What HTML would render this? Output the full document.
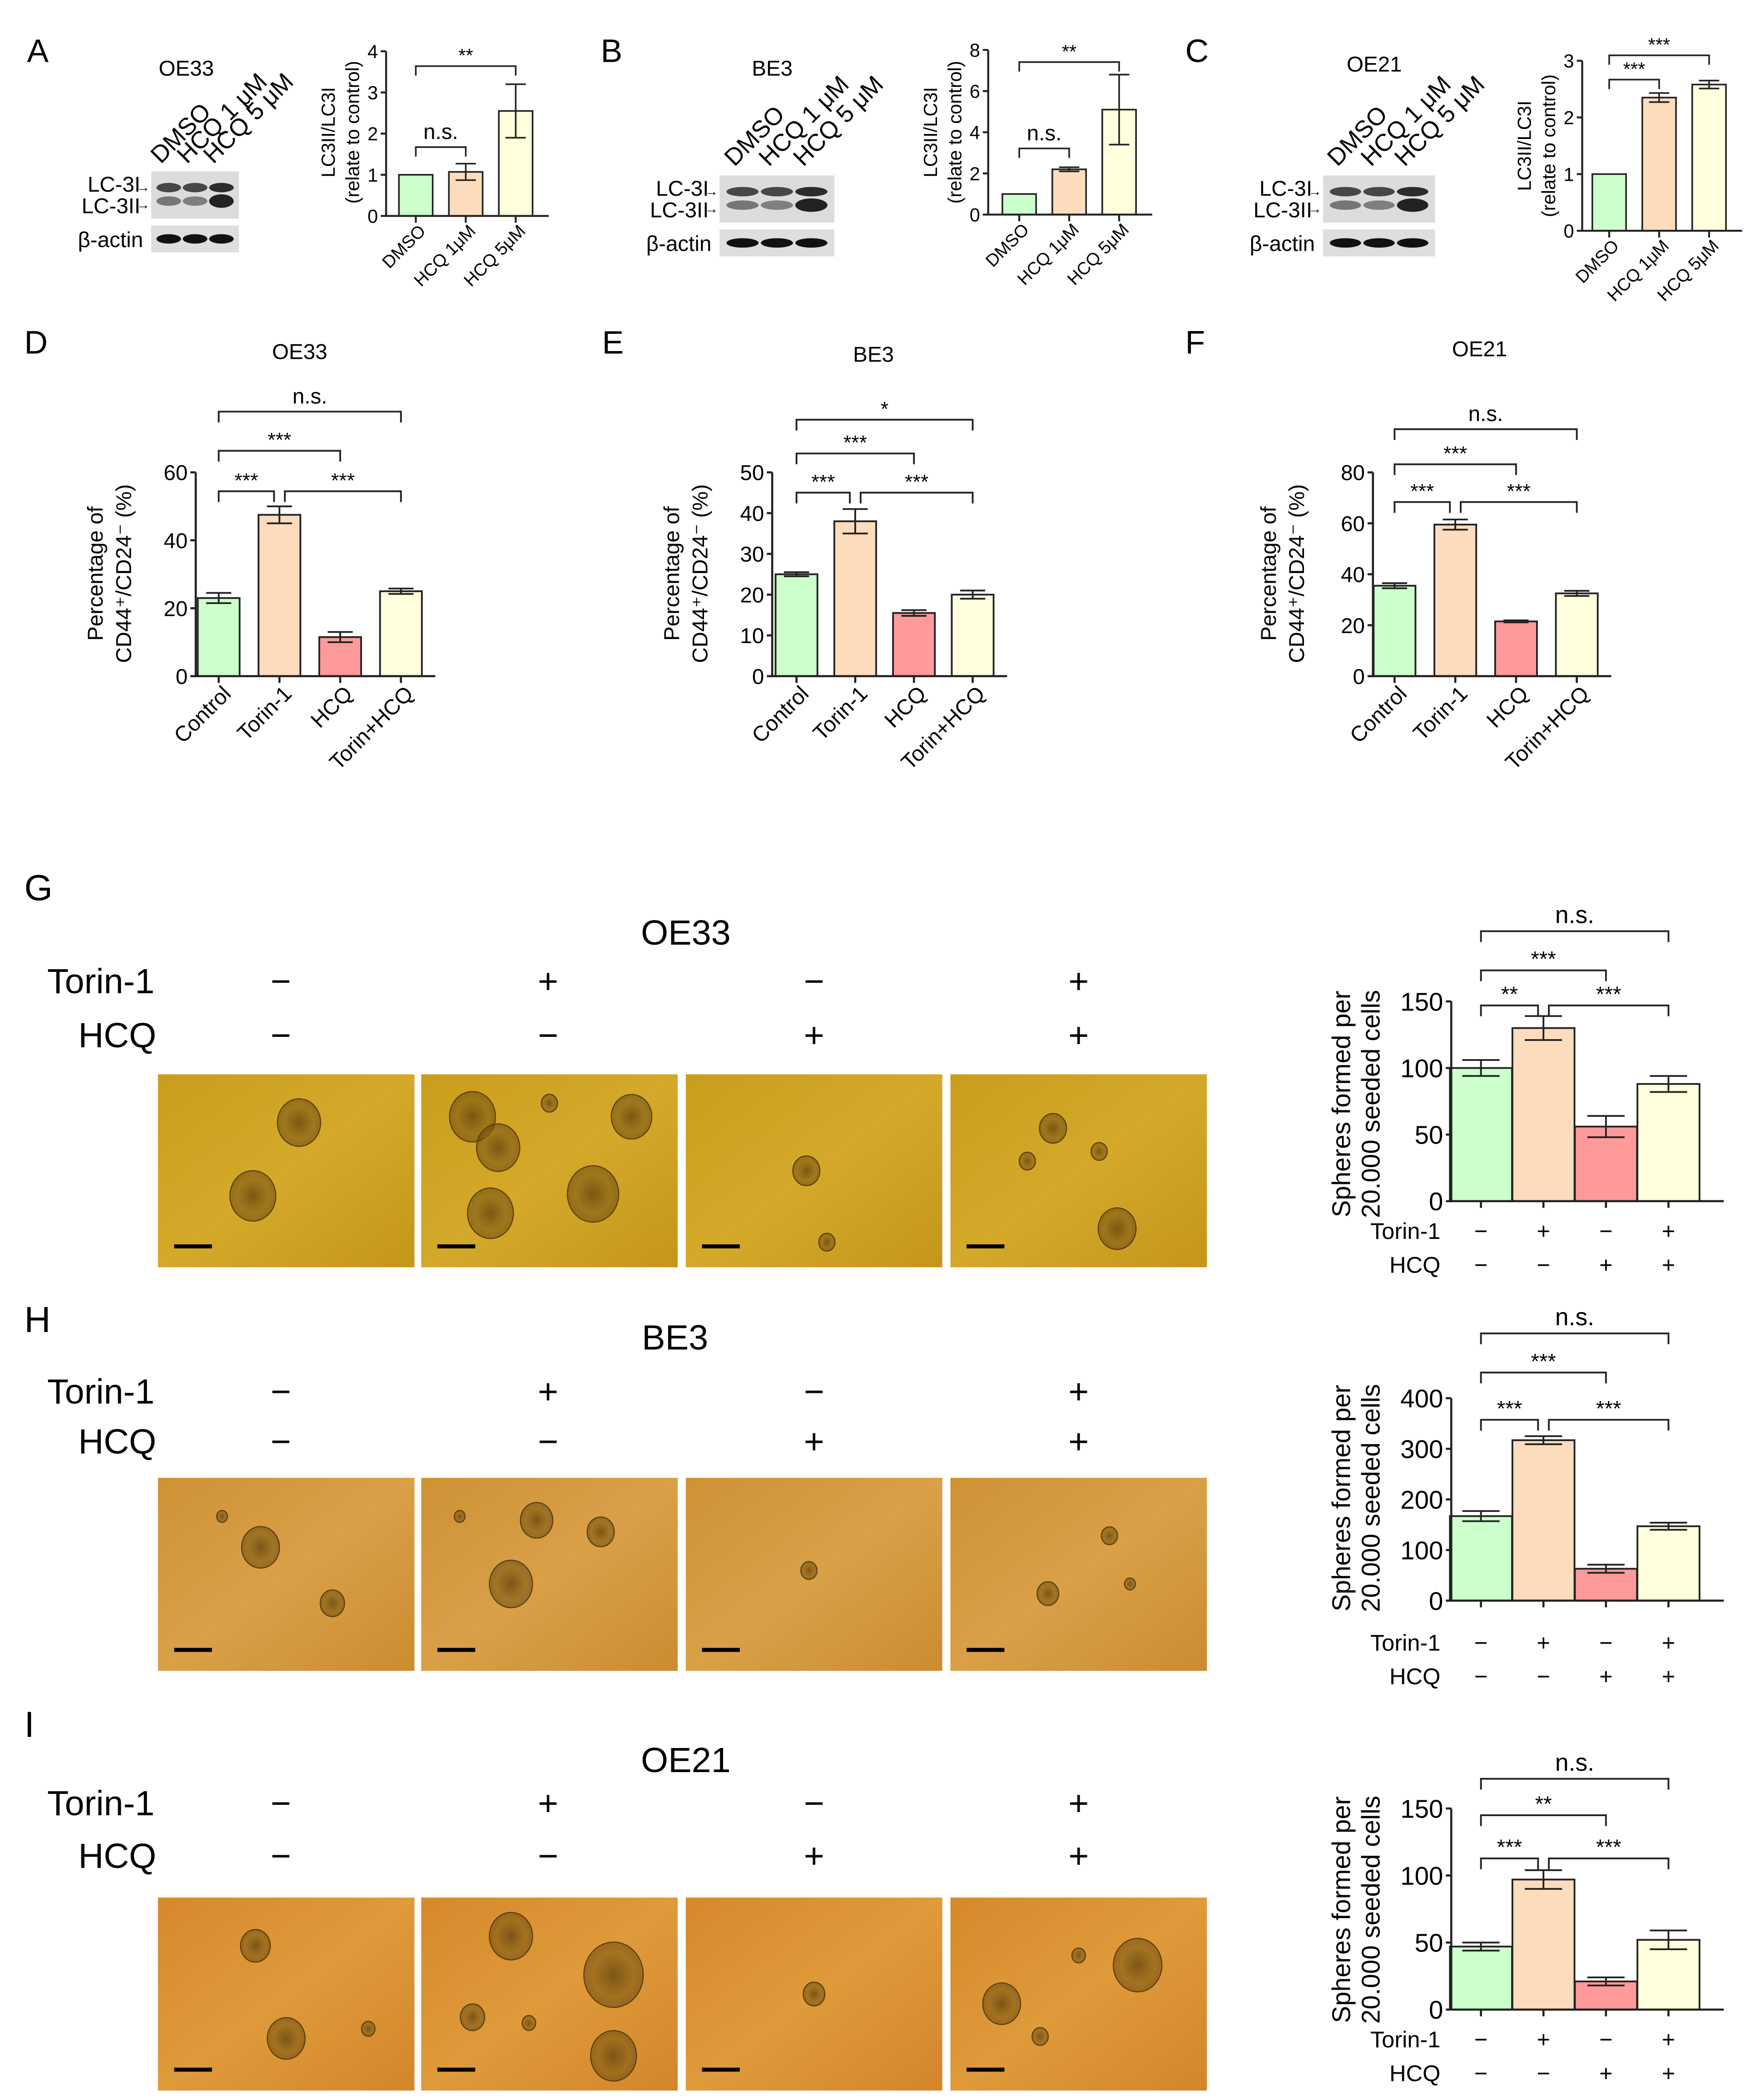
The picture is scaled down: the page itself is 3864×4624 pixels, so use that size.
<!DOCTYPE html>
<html><head><meta charset="utf-8">
<style>
html,body{margin:0;padding:0;background:#fff;}
svg{display:block;font-family:"Liberation Sans",Arial,sans-serif;}
</style></head>
<body>
<svg id="fig" xmlns="http://www.w3.org/2000/svg" width="3864" height="4624" viewBox="0 0 1300 1556" preserveAspectRatio="none">
<defs>
<linearGradient id="gG" x1="0" y1="0" x2="1" y2="1"><stop offset="0" stop-color="#c99e1c"/><stop offset="0.5" stop-color="#d4a92a"/><stop offset="1" stop-color="#c4961a"/></linearGradient>
<linearGradient id="gH" x1="0" y1="0" x2="1" y2="1"><stop offset="0" stop-color="#cf9235"/><stop offset="0.5" stop-color="#d9a048"/><stop offset="1" stop-color="#cc8c30"/></linearGradient>
<linearGradient id="gI" x1="0" y1="0" x2="1" y2="1"><stop offset="0" stop-color="#d6892a"/><stop offset="0.5" stop-color="#df9a3a"/><stop offset="1" stop-color="#d3862a"/></linearGradient>
<radialGradient id="sph"><stop offset="0" stop-color="#6b4a10" stop-opacity="0.85"/><stop offset="0.7" stop-color="#8a6418" stop-opacity="0.7"/><stop offset="1" stop-color="#5a3c0c" stop-opacity="0.5"/></radialGradient>
</defs>
<g id="root"></g>
</svg>
<script>
// ---------- Panel data ----------
const catsABC = ["DMSO","HCQ 1μM","HCQ 5μM"];
const aValues = [1, 1.07, 2.55];
const aErrors = [0, 0.2, 0.65];
const aTicks = [0,1,2,3,4];
const bValues = [1, 2.2, 5.1];
const bErrors = [0, 0.1, 1.7];
const bTicks = [0,2,4,6,8];
const cValues = [1, 2.35, 2.58];
const cErrors = [0, 0.08, 0.07];
const cTicks = [0,1,2,3];
const catsDEF = ["Control","Torin-1","HCQ","Torin+HCQ"];
const dValues = [23, 47.5, 11.5, 25];
const dErrors = [1.5, 2.5, 1.5, 0.8];
const dTicks = [0,20,40,60];
const eValues = [25, 38, 15.5, 20];
const eErrors = [0.5, 3, 0.7, 1];
const eTicks = [0,10,20,30,40,50];
const fValues = [35.5, 59.5, 21.5, 32.5];
const fErrors = [1, 2, 0.4, 1];
const fTicks = [0,20,40,60,80];
const torinRow = ["−","+","−","+"];
const hcqRow = ["−","−","+","+"];
const gValues = [100, 130, 56, 88];
const gErrors = [6, 9, 8, 6];
const gTicks = [0,50,100,150];
const hValues = [167, 317, 63, 147];
const hErrors = [10, 8, 8, 7];
const hTicks = [0,100,200,300,400];
const iValues = [47, 97, 21, 52];
const iErrors = [3, 7, 3, 7];
const iTicks = [0,50,100,150];
const sigA = [[0,2,"**"],[0,1,"n.s."]];
const sigB = [[0,2,"**"],[0,1,"n.s."]];
const sigC = [[0,2,"***"],[0,1,"***"]];
const sigD = [[0,3,"n.s."],[0,2,"***"],[0,1,"***"],[1,3,"***"]];
const sigE = [[0,3,"*"],[0,2,"***"],[0,1,"***"],[1,3,"***"]];
const sigF = [[0,3,"n.s."],[0,2,"***"],[0,1,"***"],[1,3,"***"]];
const sigG = [[0,3,"n.s."],[0,2,"***"],[0,1,"**"],[1,3,"***"]];
const sigH = [[0,3,"n.s."],[0,2,"***"],[0,1,"***"],[1,3,"***"]];
const sigI = [[0,3,"n.s."],[0,2,"**"],[0,1,"***"],[1,3,"***"]];
const colors4 = ["#ccffcc","#fcdcbc","#ff9a9a","#ffffdd"];
const colors3 = ["#ccffcc","#fcdcbc","#ffffdd"];

const NS = "http://www.w3.org/2000/svg";
const root = document.getElementById("root");
function el(tag, attrs, parent, txt){
  const e = document.createElementNS(NS, tag);
  for (const k in attrs) e.setAttribute(k, attrs[k]);
  if (txt !== undefined) e.textContent = txt;
  (parent||root).appendChild(e);
  return e;
}
function txt(x,y,s,size,opts,parent){
  const a = Object.assign({x:x,y:y,"font-size":size,fill:"#000"}, opts||{});
  return el("text", a, parent, s);
}

function barChart(name, L, vals, errs, ticks, cats, sig){
  const g = el("g", {});
  
  
  const colors = vals.length===3 ? colors3 : colors4;
  const maxV = ticks[ticks.length-1];
  const ys = v => L.y0 - (v/maxV)*(L.y0-L.yTop);
  const xs = i => L.x0 + i*L.step;
  vals.forEach((v,i)=>{
    const r = el("rect",{x:xs(i)-L.bw/2,y:ys(v),width:L.bw,height:L.y0-ys(v),fill:colors[i],stroke:"#222","stroke-width":L.sw},g);
    
    
    if (errs[i]>0){
      const e1=ys(v+errs[i]), e2=ys(v-errs[i]), w=L.bw*0.3;
      const eb = el("path",{d:`M${xs(i)},${e1}V${e2}M${xs(i)-w},${e1}H${xs(i)+w}M${xs(i)-w},${e2}H${xs(i)+w}`,stroke:"#222","stroke-width":L.sw,fill:"none"},g);
      
      
    }
  });
  const right = xs(vals.length-1)+L.bw/2+L.gapR;
  const ax = el("path",{d:`M${L.ax},${L.yTop}V${L.y0}H${right}`,stroke:"#222","stroke-width":L.sw*1.2,fill:"none"},g);
  
  
  ticks.forEach(t=>{
    el("line",{x1:L.ax-4,x2:L.ax,y1:ys(t),y2:ys(t),stroke:"#222","stroke-width":L.sw*1.2},g);
    const tl = txt(L.ax-6,ys(t)+L.fs*0.36,String(t),L.fs,{"text-anchor":"end"},g);
    
    
  });
  vals.forEach((v,i)=>{ el("line",{x1:xs(i),x2:xs(i),y1:L.y0,y2:L.y0+5,stroke:"#222","stroke-width":L.sw*1.2},g); });
  L.ytitle.forEach((s,k)=>{
    const tx = L.ytx[k];
    const t = txt(tx,L.yty,s,L.yfs,{"text-anchor":"middle",transform:`rotate(-90 ${tx} ${L.yty})`},g);
    
    
  });
  if (L.rotLabels){
    cats.forEach((c,i)=>{
      const x=xs(i)+L.lx, y=L.y0+L.ly;
      const t = txt(x,y,c,L.xfs,{"text-anchor":"end",transform:`rotate(-45 ${x} ${y})`},g);
      
      
    });
  } else {
    [[L.row1,torinRow,"Torin-1"],[L.row2,hcqRow,"HCQ"]].forEach(([ry,row,lab])=>{
      const t = txt(L.ax-8,ry,lab,L.xfs,{"text-anchor":"end"},g);
      
      
      row.forEach((s,i)=>{ txt(xs(i),ry,s,L.xfs,{"text-anchor":"middle"},g); });
    });
  }
  sig.forEach((s,k)=>{
    const y = L.sigY[k], x1 = xs(s[0]) + (s[0]===1 && s[1]===3 ? 4 : 0), x2 = xs(s[1]) - (s[0]===0 && s[1]===1 && sig.length===4 ? 4 : 0);
    const br = el("path",{d:`M${x1},${y+L.tick}V${y}H${x2}V${y+L.tick}`,stroke:"#222","stroke-width":L.sw,fill:"none"},g);
    
    
    const isStar = s[2].indexOf("*")===0;
    const lt = txt((x1+x2)/2, y - (isStar? 3 : 6), s[2], isStar? L.sfs : L.nsfs, {"text-anchor":"middle"}, g);
    
    
  });
}

function blot(name, x, y, w, ytop){
  const g = el("g",{});
  
  
  const lanes = [0,1,2].map(i=>x+w*(0.2+0.3*i));
  el("rect",{x:x,y:y,width:w,height:35,fill:"#dcdcdc"},g);
  const t1=[0.8,0.8,0.95], t2=[0.55,0.5,1];
  lanes.forEach((lx,i)=>{
    el("ellipse",{cx:lx,cy:y+12,rx:w*0.14,ry:3.5,fill:"#222","fill-opacity":t1[i]},g);
    el("ellipse",{cx:lx,cy:y+22,rx:w*0.14,ry:3.5+(i==2?1.5:0),fill:"#222","fill-opacity":t2[i]},g);
  });
  el("rect",{x:x,y:y+40,width:w,height:20,fill:"#dedede"},g);
  lanes.forEach(lx=>{ el("ellipse",{cx:lx,cy:y+50,rx:w*0.14,ry:3.5,fill:"#111"},g); });
  const l1 = txt(x-8,y+15,"LC-3I",16,{"text-anchor":"end"},g);
   
  txt(x-1,y+15,"→",10,{"text-anchor":"end"},g);
  const l2 = txt(x-8,y+31,"LC-3II",16,{"text-anchor":"end"},g);
   
  txt(x-1,y+28,"→",10,{"text-anchor":"end"},g);
  const l3 = txt(x-6,y+56,"β-actin",16,{"text-anchor":"end"},g);
   
  ["DMSO","HCQ 1 μM","HCQ 5 μM"].forEach((s,i)=>{
    const lx=lanes[i]-6, ly=ytop;
    const t = txt(lx,ly,s,18,{transform:`rotate(-45 ${lx} ${ly})`},g);
     
  });
}

function letter(s,x,y,size){
  const t = txt(x,y,s,size,{});
  
  
}
function title(s,x,y,size){
  const t = txt(x,y,s,size,{"text-anchor":"middle"});
  
  
}

// ---------- Row 1 ----------
letter("A",20,46,24); title("OE33",138,56,16);
blot("western-blot-oe33",112,127,65,122);
letter("B",445,46,24); title("BE3",572,56,16);
blot("western-blot-be3",533,130,85,124);
letter("C",878,46,24); title("OE21",1018,53,16);
blot("western-blot-oe21",980,130,83,124);

const smallL = {x0:308,step:37,bw:25,sw:1.2,gapR:12,fs:14,yfs:14,xfs:13,sfs:14,nsfs:16,lx:8,ly:12,rotLabels:true,tick:7};
barChart("chart-a",Object.assign({},smallL,{ax:286,y0:160,yTop:38,ytx:[248,266],yty:98,ytitle:["LC3II/LC3I","(relate to control)"],sigY:[49,109]}),aValues,aErrors,aTicks,catsABC,sigA);
barChart("chart-b",Object.assign({},smallL,{x0:755,ax:732,y0:159,yTop:37,ytx:[694,712],yty:98,ytitle:["LC3II/LC3I","(relate to control)"],sigY:[46,110]}),bValues,bErrors,bTicks,catsABC,sigB);
barChart("chart-c",Object.assign({},smallL,{x0:1192,ax:1172,y0:171,yTop:45,ytx:[1134,1152],yty:108,ytitle:["LC3II/LC3I","(relate to control)"],sigY:[41,59]}),cValues,cErrors,cTicks,catsABC,sigC);

// ---------- Row 2 ----------
const midL = {step:45,bw:31,sw:1.3,gapR:10,fs:16,yfs:16,xfs:16,sfs:15,nsfs:16,lx:10,ly:14,rotLabels:true,tick:8};
letter("D",18,262,24); title("OE33",222,266,16);
barChart("chart-d",Object.assign({},midL,{x0:162,ax:145,y0:501,yTop:350,ytx:[76,97],yty:425,ytitle:["Percentage of","CD44⁺/CD24⁻ (%)"],sigY:[305,334,364,364]}),dValues,dErrors,dTicks,catsDEF,sigD);
letter("E",446,262,24); title("BE3",647,268,16);
barChart("chart-e",Object.assign({},midL,{x0:590,step:43.5,ax:572,y0:501,yTop:350,ytx:[503,524],yty:425,ytitle:["Percentage of","CD44⁺/CD24⁻ (%)"],sigY:[311,336,365,365]}),eValues,eErrors,eTicks,catsDEF,sigE);
letter("F",878,262,24); title("OE21",1096,264,16);
barChart("chart-f",Object.assign({},midL,{x0:1033,ax:1017,y0:501,yTop:350,ytx:[945,966],yty:425,ytitle:["Percentage of","CD44⁺/CD24⁻ (%)"],sigY:[318,344,372,372]}),fValues,fErrors,fTicks,catsDEF,sigF);

// ---------- Sphere rows ----------
const sphereSets = [
  [[[0.55,0.25,16],[0.37,0.63,17]],[[0.2,0.22,17],[0.3,0.38,16],[0.82,0.22,15],[0.27,0.72,17],[0.67,0.62,19],[0.5,0.15,6]],[[0.47,0.5,10],[0.55,0.87,6]],[[0.4,0.28,10],[0.3,0.45,6],[0.65,0.8,14],[0.58,0.4,6]]],
  [[[0.4,0.36,14],[0.68,0.65,9],[0.25,0.2,4]],[[0.35,0.55,16],[0.45,0.22,12],[0.7,0.28,10],[0.15,0.2,4]],[[0.48,0.48,6]],[[0.62,0.3,6],[0.38,0.6,8],[0.7,0.55,4]]],
  [[[0.38,0.25,11],[0.5,0.73,14],[0.82,0.68,5]],[[0.35,0.2,16],[0.75,0.4,22],[0.75,0.82,17],[0.2,0.62,9],[0.42,0.65,5]],[[0.5,0.5,8]],[[0.2,0.55,14],[0.73,0.35,18],[0.5,0.3,5],[0.35,0.72,6]]]
];
function sphereRow(idx, ttl, letterS, ly, ty, r1, r2, imgY, grad, L, vals, errs, ticks, sig){
  letter(letterS,18,ly,27);
  title(ttl, idx===1?500:508, ty, 26);
  const rl1 = txt(35,r1,"Torin-1",26,{});  
  const rl2 = txt(58,r2,"HCQ",26,{});  
  [208,406,603,799].forEach((x,i)=>{
    txt(x,r1,torinRow[i],26,{"text-anchor":"middle"});
    txt(x,r2,hcqRow[i],26,{"text-anchor":"middle"});
  });
  [117,312,508,704].forEach((x,i)=>{
    const g = el("g",{});
    
    
    el("rect",{x:x,y:imgY,width:190,height:143,fill:`url(#${grad})`},g);
    sphereSets[idx][i].forEach(s=>{
      el("ellipse",{cx:x+s[0]*190,cy:imgY+s[1]*143,rx:s[2],ry:s[2]*1.1,fill:"url(#sph)",stroke:"#5a3f0a","stroke-width":0.8},g);
    });
    el("rect",{x:x+12,y:imgY+126,width:28,height:3,fill:"#000"},g);
  });
  barChart("chart-"+letterS.toLowerCase(), L, vals, errs, ticks, catsDEF, sig);
}
const bigL = {x0:1097,step:46.3,bw:46,sw:1.3,ax:1075,gapR:18,fs:19,yfs:19,xfs:17,sfs:16,nsfs:18,rotLabels:false,tick:8,ytx:[1000,1022],ytitle:["Spheres formed per","20.000 seeded cells"]};
sphereRow(0,"OE33","G",667,700,736,776,796,"gG",Object.assign({},bigL,{y0:890,yTop:742,yty:818,row1:918,row2:943,sigY:[690,719,745,745]}),gValues,gErrors,gTicks,sigG);
sphereRow(1,"BE3","H",987,1000,1040,1077,1095,"gH",Object.assign({},bigL,{y0:1186,yTop:1036,yty:1110,row1:1223,row2:1248,sigY:[988,1017,1052,1052]}),hValues,hErrors,hTicks,sigH);
sphereRow(2,"OE21","I",1287,1313,1345,1384,1406,"gI",Object.assign({},bigL,{y0:1489,yTop:1340,yty:1415,row1:1517,row2:1542,sigY:[1318,1345,1377,1377]}),iValues,iErrors,iTicks,sigI);
</script>
</body></html>
